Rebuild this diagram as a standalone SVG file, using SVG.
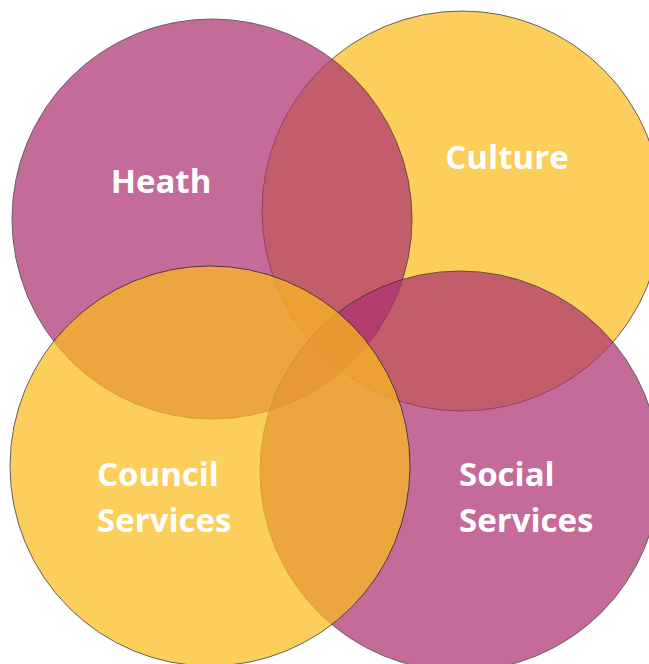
<svg xmlns="http://www.w3.org/2000/svg" width="649" height="664" viewBox="0 0 649 664">
  <style>
    .ring { stroke: #2a2326; stroke-width: 1; }
    .yellow { fill: #FCBC1D; opacity: 0.72; }
    .magenta { fill: #AD3072; opacity: 0.71; }
    .label { font-family: "Open Sans", "DejaVu Sans", sans-serif; font-weight: 700; font-size: 33px; fill: #ffffff; }
  </style>
  <rect width="649" height="664" fill="#ffffff"/>

  <!-- circles drawn back to front -->
  <g id="culture">
    <circle class="ring yellow" cx="462" cy="211" r="200"/>
  </g>
  <g id="heath">
    <circle class="ring magenta" cx="212" cy="219" r="200"/>
  </g>
  <g id="social-services">
    <circle class="ring magenta" cx="460" cy="471" r="200"/>
  </g>
  <g id="council-services">
    <circle class="ring yellow" cx="210" cy="466" r="200"/>
  </g>

  <!-- labels -->
  <g id="labels">
    <text class="label" x="161" y="193" text-anchor="middle">Heath</text>
    <text class="label" x="507" y="169" text-anchor="middle">Culture</text>
    <text class="label" x="97" y="486">Council</text>
    <text class="label" x="97" y="532">Services</text>
    <text class="label" x="459" y="486">Social</text>
    <text class="label" x="459" y="532">Services</text>
  </g>
</svg>
